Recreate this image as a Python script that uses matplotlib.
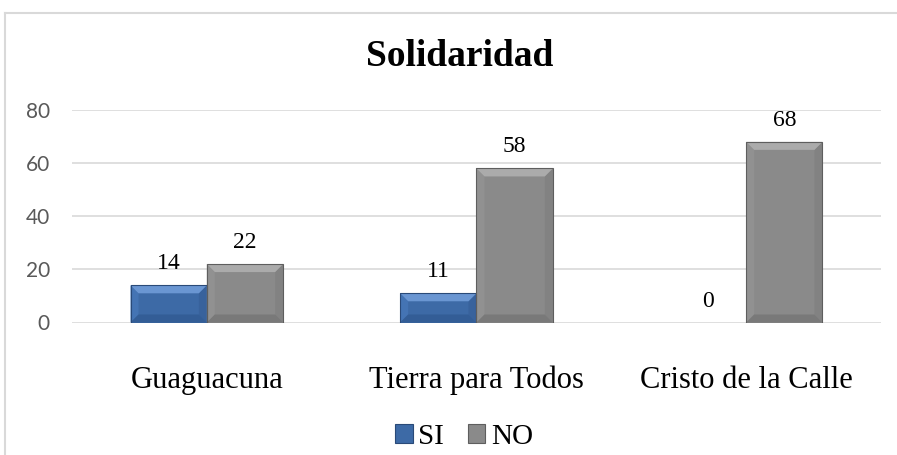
import matplotlib
matplotlib.use("Agg")
import matplotlib.pyplot as plt
from matplotlib.patches import Polygon, Rectangle
from matplotlib.lines import Line2D
import numpy as np

categories = ["Guaguacuna", "Tierra para Todos", "Cristo de la Calle"]
series_names = ["SI", "NO"]
si_values = [14, 11, 0]
no_values = [22, 58, 68]
yticks = [0, 20, 40, 60, 80]
title = "Solidaridad"

W, H = 897, 455
fig = plt.figure(figsize=(W / 100, H / 100), dpi=100)
AX_L, AX_R, AX_T, AX_B = 72, 881, 110, 322.5
ax = fig.add_axes([AX_L / W, 1 - AX_B / H, (AX_R - AX_L) / W, (AX_B - AX_T) / H])

serif = "Liberation Serif"
blue = dict(mid="#3D6AA6", top="#6A96D2", bot="#335D96", left="#4474B4", right="#38629C", edge="#2A4A78")
gray = dict(mid="#8A8A8A", top="#ABABAB", bot="#797979", left="#919191", right="#828282", edge="#5E5E5E")

x = np.arange(len(categories))
bw = 0.283
ax.set_xlim(-0.5, len(categories) - 0.5)
ax.set_ylim(0, 80)

group_px = (AX_R - AX_L) / len(categories)
bx = 8 / group_px
by = 8 * 80 / (AX_B - AX_T)


def bevel_bars(rects, pal):
    for r in rects:
        x0, y0 = r.get_x(), r.get_y()
        w, h = r.get_width(), r.get_height()
        if h <= 0:
            continue
        x1, y1 = x0 + w, y0 + h
        b = min(by, h / 2.5)
        ax.add_patch(Polygon([(x0, y0), (x0 + bx, y0 + b), (x0 + bx, y1 - b), (x0, y1)],
                             closed=True, fc=pal["left"], ec="none", zorder=3))
        ax.add_patch(Polygon([(x1, y0), (x1 - bx, y0 + b), (x1 - bx, y1 - b), (x1, y1)],
                             closed=True, fc=pal["right"], ec="none", zorder=3))
        ax.add_patch(Polygon([(x0, y1), (x1, y1), (x1 - bx, y1 - b), (x0 + bx, y1 - b)],
                             closed=True, fc=pal["top"], ec="none", zorder=3))
        ax.add_patch(Polygon([(x0, y0), (x1, y0), (x1 - bx, y0 + b), (x0 + bx, y0 + b)],
                             closed=True, fc=pal["bot"], ec="none", zorder=3))
        ax.add_patch(Rectangle((x0, y0), w, h, fc="none", ec=pal["edge"], lw=0.8, zorder=4))


r_si = ax.bar(x - bw / 2, si_values, bw, color=blue["mid"], zorder=2, linewidth=0)
r_no = ax.bar(x + bw / 2, no_values, bw, color=gray["mid"], zorder=2, linewidth=0)
bevel_bars(r_si, blue)
bevel_bars(r_no, gray)

for rects, vals in ((r_si, si_values), (r_no, no_values)):
    for r, v in zip(rects, vals):
        ax.annotate(f"{v}", (r.get_x() + r.get_width() / 2, v), xytext=(0, 11.5),
                    textcoords="offset points", ha="center", va="baseline",
                    fontsize=17, family=serif, color="black", zorder=5)

ax.set_yticks(yticks)
ax.set_yticklabels([str(t) for t in yticks], family="Lato", fontsize=15, color="#595959")
ax.set_xticks(x)
ax.set_xticklabels(categories, family=serif, fontsize=22, color="black")
ax.tick_params(axis="both", length=0)
ax.tick_params(axis="x", pad=31)
ax.tick_params(axis="y", pad=16)
ax.grid(axis="y", color="#D9D9D9", linewidth=1.2, zorder=0)
ax.set_axisbelow(True)
for s in ax.spines.values():
    s.set_visible(False)

fig.text(460 / W, 1 - 56 / H, title, ha="center", va="center", fontsize=27,
         fontweight="bold", family=serif, color="black")

# chart frame
fig.add_artist(Line2D([5 / W, 1.0], [1 - 13 / H, 1 - 13 / H], color="#D9D9D9", lw=1.5))
fig.add_artist(Line2D([5 / W, 5 / W], [1 - 13 / H, 0.0], color="#D9D9D9", lw=1.5))

handles = [Rectangle((0, 0), 1, 1, fc=blue["mid"], ec=blue["edge"], lw=0.8),
           Rectangle((0, 0), 1, 1, fc=gray["mid"], ec=gray["edge"], lw=0.8)]
fig.legend(handles, series_names, loc="center", bbox_to_anchor=(464 / W, 1 - 437 / H),
           ncol=2, frameon=False, prop=dict(family=serif, size=21),
           handlelength=0.6, handleheight=0.6, handletextpad=0.2, columnspacing=0.8,
           borderpad=0, borderaxespad=0)

fig.savefig("out.png", dpi=100)
